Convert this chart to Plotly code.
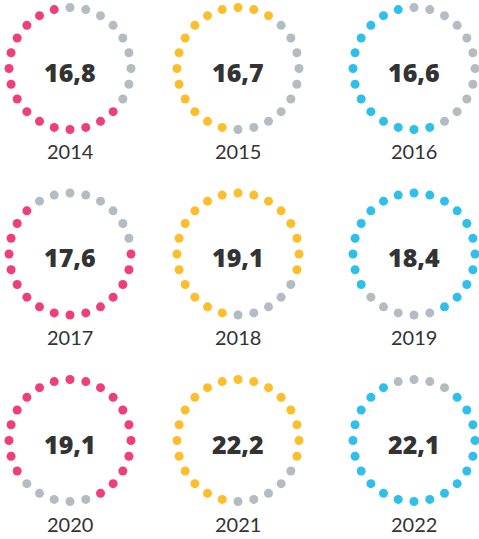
import plotly.graph_objects as go

# data
years = ["2014", "2015", "2016", "2017", "2018", "2019", "2020", "2021", "2022"]
values = [16.8, 16.7, 16.6, 17.6, 19.1, 18.4, 19.1, 22.2, 22.1]
filled_dots = [15, 14, 13, 16, 19, 19, 19, 19, 20]
first_dot = [9, 13, 11, 6, 13, 16, 16, 13, 3]  # index of first coloured dot, clockwise from top
n_dots = 24

col_colors = ["#EF3E7B", "#FDBE2C", "#2EC0EA"]
grey = "#B3BCC0"
text_color = "#333333"

W, H = 479, 539
col_x = [70, 238, 414]
row_y = [68.5, 254, 440.5]
R = 61

fig = go.Figure()

for i, year in enumerate(years):
    row, col = divmod(i, 3)
    cx, cy = col_x[col], row_y[row]
    name = "polar" if i == 0 else f"polar{i + 1}"

    # which dots are coloured
    colored = set((first_dot[i] + j) % n_dots for j in range(filled_dots[i]))
    theta = [k * 360 / n_dots for k in range(n_dots)]
    colors = [col_colors[col] if k in colored else grey for k in range(n_dots)]

    fig.add_trace(go.Scatterpolar(
        r=[1] * n_dots,
        theta=theta,
        mode="markers",
        marker=dict(size=9, color=colors),
        cliponaxis=False,
        hoverinfo="skip",
        showlegend=False,
        subplot=name,
    ))

    fig.update_layout({
        name: dict(
            domain=dict(x=[(cx - R) / W, (cx + R) / W],
                        y=[1 - (cy + R) / H, 1 - (cy - R) / H]),
            bgcolor="rgba(0,0,0,0)",
            radialaxis=dict(visible=False, range=[0, 1]),
            angularaxis=dict(visible=False, direction="clockwise", rotation=90),
        )
    })

    # value in the middle
    fig.add_annotation(
        x=cx / W, y=1 - cy / H, xref="paper", yref="paper",
        xanchor="center", yanchor="middle",
        text=f"{values[i]:.1f}".replace(".", ","),
        showarrow=False, yshift=-3,
        font=dict(family="Open Sans", size=25, color=text_color, weight=800),
    )
    # year underneath
    fig.add_annotation(
        x=cx / W, y=1 - (cy + 83) / H, xref="paper", yref="paper",
        xanchor="center", yanchor="middle",
        text=year, showarrow=False,
        font=dict(family="Lato", size=20, color=text_color),
    )

fig.update_layout(
    width=W, height=H,
    margin=dict(l=0, r=0, t=0, b=0),
    paper_bgcolor="white",
    plot_bgcolor="white",
)

fig.write_html("out.html", config={"displayModeBar": False},
               post_script="document.body.style.margin='0';")
